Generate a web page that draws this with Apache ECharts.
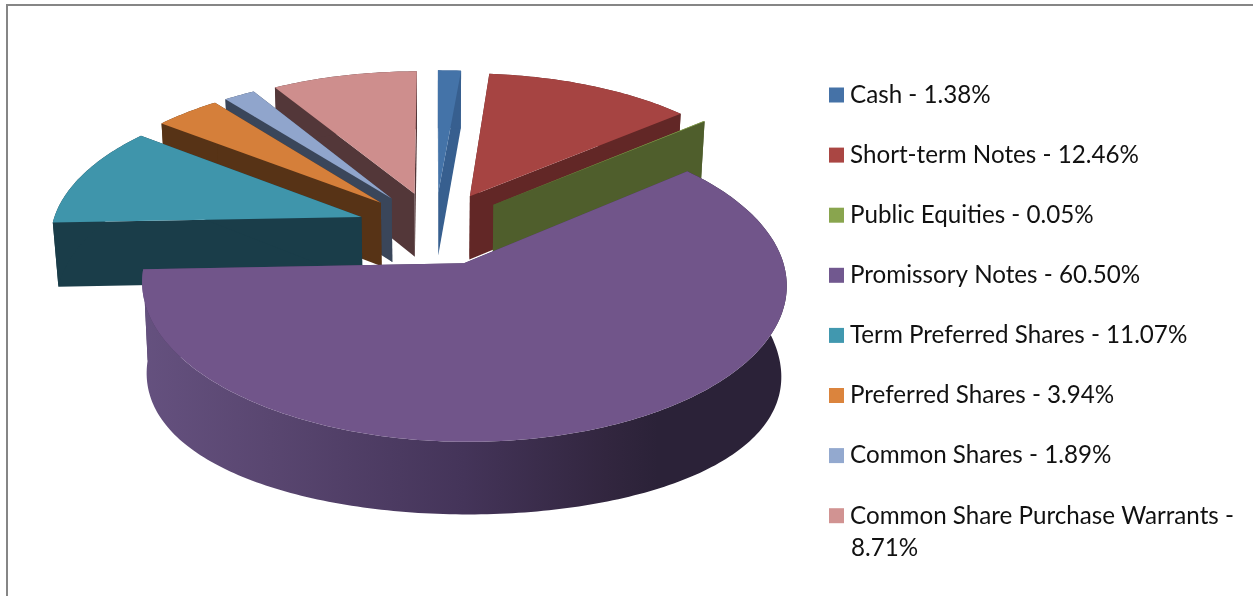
<!DOCTYPE html>
<html>
<head>
<meta charset="utf-8">
<style>html,body{margin:0;padding:0;background:#fff}#c{width:1253px;height:596px}</style>
<script src="https://cdn.jsdelivr.net/npm/echarts@6/dist/echarts.min.js"></script>
</head>
<body>
<div id="c"></div>
<script>
const categories = ['Cash','Short-term Notes','Public Equities','Promissory Notes','Term Preferred Shares','Preferred Shares','Common Shares','Common Share Purchase Warrants'];
const shares = [1.38,12.46,0.05,60.50,11.07,3.94,1.89,8.71];
const legendColors = ['#4572A7','#AA4643','#89A54E','#71588F','#4198AF','#DB843D','#93A9CF','#D19392'];
const topColors = ['#4473A8','#A64442','#8AA54E','#71558A','#3F95AB','#D57F3A','#90A5CC','#CE8E8D'];
const wallColors = ['#375F8F','#622726','#4F5E2C','#4A3A60','#1A3D49','#573316','#3A465A','#533739'];
const wrappedCategory = 'Common Share Purchase Warrants';

const FONT = 'Lato';
const FS = 24.2;
const view = {cx:435, cy:228, R:310, E:78, q:0.471, k:0.00041, h:65.5, m:0.015, sag:25};

function project(X, Y, bottom){
  const s = 1/(1 + view.k*Y + (bottom ? view.m : 0));
  return [view.cx + X*s, view.cy - (view.q*Y - (bottom ? view.h : 0))*s];
}
function rimPoint(deg, ox, oy, bottom){
  const a = deg*Math.PI/180;
  return project(ox + view.R*Math.sin(a), oy + view.R*Math.cos(a), bottom);
}
const total = shares.reduce((a,b)=>a+b,0);
let acc = 0;
const spans = shares.map(v=>{const s=acc; acc+=v; return [s/total*360, acc/total*360];});

function renderSlice(idx){
  return function(params, api){
    const a0 = api.value(0), a1 = api.value(1), mid = (a0+a1)/2*Math.PI/180;
    const ox = view.E*Math.sin(mid), oy = view.E*Math.cos(mid);
    const top=[], bot=[];
    const n = Math.max(2, Math.ceil(a1-a0));
    for(let i=0;i<=n;i++){
      const d = a0+(a1-a0)*i/n;
      top.push(rimPoint(d,ox,oy,false));
      const b = rimPoint(d,ox,oy,true);
      if(idx===3){ const sn=Math.sin(d*Math.PI/180); b[1]+=view.sag*sn*sn; }
      bot.push(b);
    }
    const at = project(ox,oy,false), ab = project(ox,oy,true);
    const wall = wallColors[idx];
    let rimFill = wall;
    if(idx===3){
      rimFill = new echarts.graphic.LinearGradient(0,0,1,0,[
        {offset:0,color:'#65517F'},{offset:0.2,color:'#594670'},{offset:0.5,color:'#443459'},
        {offset:0.72,color:'#32263F'},{offset:0.8,color:'#2B2238'},{offset:1,color:'#2B2238'}]);
    }
    const kids = [
      {type:'polygon',shape:{points:[at,top[0],bot[0],ab]},style:{fill:wall}},
      {type:'polygon',shape:{points:[at,top[n],bot[n],ab]},style:{fill:wall}},
      {type:'polygon',shape:{points:top.concat(bot.slice().reverse())},style:{fill:rimFill}},
      {type:'polygon',shape:{points:[at].concat(top)},style:{fill:topColors[idx]}}
    ];
    return {type:'group',children:kids};
  };
}

const series = categories.map((name,i)=>{
  const midA=(spans[i][0]+spans[i][1])/2*Math.PI/180;
  return {
    type:'custom', name, coordinateSystem:'none', silent:true,
    z: 5 + (Math.cos(midA)<0 ? 1 : 0) * 3 + (1-Math.cos(midA)),
    itemStyle:{color:legendColors[i]},
    renderItem:renderSlice(i),
    data:[spans[i]]
  };
});
// paint back slices first
const order = categories.map((_,i)=>i).sort((a,b)=>series[a].z-series[b].z);
const orderedSeries = order.map(i=>series[i]);

const chart = echarts.init(document.getElementById('c'),null,{renderer:'canvas'});
chart.setOption({
  animation:false,
  backgroundColor:'#fff',
  graphic:[
    {type:'rect',shape:{x:7,y:5,width:1400,height:800},style:{fill:'none',stroke:'#868686',lineWidth:2},silent:true,z:0},
    {type:'text',silent:true,z:10,style:{x:851,y:548,text:shares[categories.indexOf(wrappedCategory)].toFixed(2)+'%',font:FS+'px '+FONT,fill:'#111',verticalAlign:'middle'}}
  ],
  legend:{
    orient:'vertical',left:829,top:83,padding:0,itemWidth:15,itemHeight:15,itemGap:36.1,selectedMode:false,
    icon:'rect',data:categories,
    textStyle:{fontFamily:FONT,fontSize:FS,color:'#111',padding:[0,0,0,1]},
    formatter:function(name){
      const v=shares[categories.indexOf(name)].toFixed(2)+'%';
      return name===wrappedCategory ? name+' -' : name+' - '+v;
    }
  },
  series:orderedSeries
});
</script>
</body>
</html>
